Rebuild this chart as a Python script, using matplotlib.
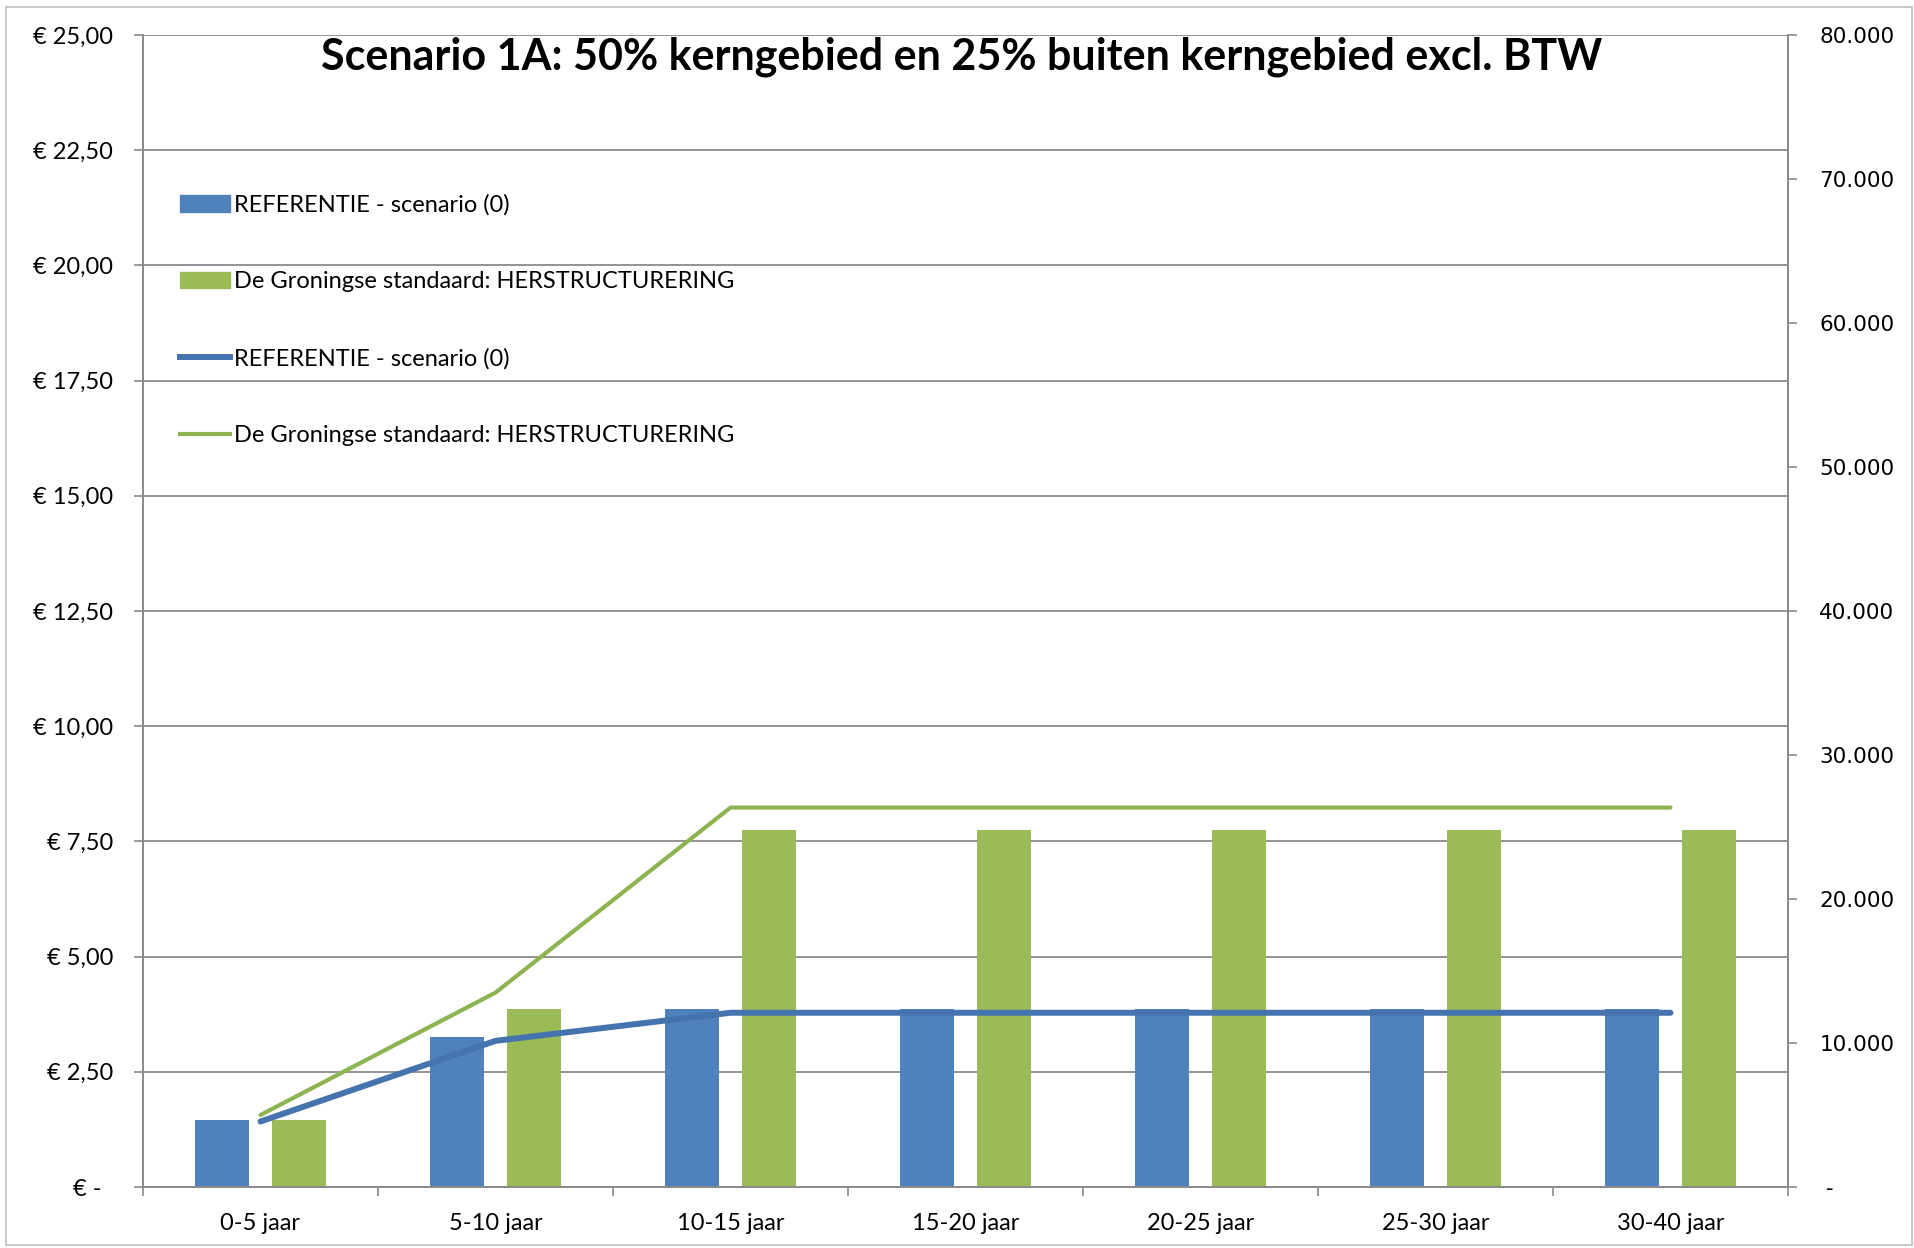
import matplotlib.pyplot as plt
import numpy as np
from matplotlib.patches import Patch, Rectangle
from matplotlib.lines import Line2D

# Data
categorieen = ["0-5 jaar", "5-10 jaar", "10-15 jaar", "15-20 jaar",
               "20-25 jaar", "25-30 jaar", "30-40 jaar"]
ref_staaf = [1.45, 3.25, 3.86, 3.86, 3.86, 3.86, 3.86]        # euro, linker as
gron_staaf = [1.45, 3.87, 7.75, 7.75, 7.75, 7.75, 7.75]       # euro, linker as
ref_lijn = [4550, 10150, 12100, 12100, 12100, 12100, 12100]   # rechter as
gron_lijn = [5000, 13500, 26350, 26350, 26350, 26350, 26350]  # rechter as

links_ticks = [0, 2.5, 5, 7.5, 10, 12.5, 15, 17.5, 20, 22.5, 25]
links_labels = ["€ -  ", "€ 2,50", "€ 5,00", "€ 7,50", "€ 10,00", "€ 12,50",
                "€ 15,00", "€ 17,50", "€ 20,00", "€ 22,50", "€ 25,00"]
rechts_ticks = [0, 10000, 20000, 30000, 40000, 50000, 60000, 70000, 80000]
rechts_labels = [" -", "10.000", "20.000", "30.000", "40.000", "50.000",
                 "60.000", "70.000", "80.000"]

naam_ref = "REFERENTIE - scenario (0)"
naam_gron = "De Groningse standaard: HERSTRUCTURERING"
titel = "Scenario 1A: 50% kerngebied en 25% buiten kerngebied excl. BTW"

blauw = "#4F81BD"
groen = "#9BBB59"
blauw_lijn = "#4573AE"
groen_lijn = "#8DB451"
grijs = "#8A8A8A"

lettertype = ["Lato", "DejaVu Sans"]

fig = plt.figure(figsize=(19.15, 12.48), dpi=100)
ax = fig.add_axes([143 / 1915, 1 - 1187 / 1248, (1788 - 143) / 1915, (1187 - 35) / 1248])
ax2 = ax.twinx()

x = np.arange(len(categorieen))
breedte = 0.23
ax.bar(x - 0.165, ref_staaf, breedte, color=blauw, zorder=2)
ax.bar(x + 0.165, gron_staaf, breedte, color=groen, zorder=2)

ax2.plot(x, ref_lijn, color=blauw_lijn, lw=4.3, solid_capstyle="round")
ax2.plot(x, gron_lijn, color=groen_lijn, lw=3.0, solid_capstyle="round")

# linker as
ax.set_xlim(-0.5, len(categorieen) - 0.5)
ax.set_ylim(0, 25)
ax.set_yticks(links_ticks)
ax.set_yticklabels(links_labels, family=lettertype, fontsize=17)
ax.yaxis.grid(True, color=grijs, lw=1.3)
ax.set_axisbelow(True)
ax.tick_params(axis="y", length=6.5, color=grijs, width=1.2, pad=15)

# rechter as
ax2.set_ylim(0, 80000)
ax2.set_yticks(rechts_ticks)
ax2.set_yticklabels(rechts_labels, family="DejaVu Sans", fontsize=15.5)
ax2.tick_params(axis="y", length=6.5, color=grijs, width=1.2, pad=16)

# categorie-as
ax.set_xticks(x)
ax.set_xticklabels(categorieen, family=lettertype, fontsize=17)
ax.set_xticks(np.arange(-0.5, len(categorieen)), minor=True)
ax.tick_params(axis="x", which="major", length=0, pad=19)
ax.tick_params(axis="x", which="minor", length=6.5, color=grijs, width=1.2)

for a in (ax, ax2):
    for s in a.spines.values():
        s.set_color(grijs)
        s.set_linewidth(1.3)
    a.spines["top"].set_visible(False)

fig.text(0.502, 1 - 57 / 1248, titel, ha="center", va="center",
         family=lettertype, fontweight="bold", fontsize=31)

handles = [Patch(color=blauw), Patch(color=groen),
           Line2D([], [], color=blauw_lijn, lw=4.3),
           Line2D([], [], color=groen_lijn, lw=3.0)]
labels = [naam_ref, naam_gron, naam_ref, naam_gron]
ax2.legend(handles, labels, loc="upper left",
           bbox_to_anchor=(180 / 1915, 1 - 194 / 1248),
           bbox_transform=fig.transFigure, frameon=False,
           prop={"family": lettertype, "size": 17}, handlelength=2.1,
           handleheight=0.7, handletextpad=0.2, labelspacing=2.36,
           borderpad=0, borderaxespad=0)

# rand om de figuur
fig.patches.append(Rectangle((6 / 1915, 3 / 1248), 1906 / 1915, 1238 / 1248,
                             transform=fig.transFigure, fill=False,
                             edgecolor="#BFBFBF", lw=1.2))

fig.savefig("out.png", dpi=100)
